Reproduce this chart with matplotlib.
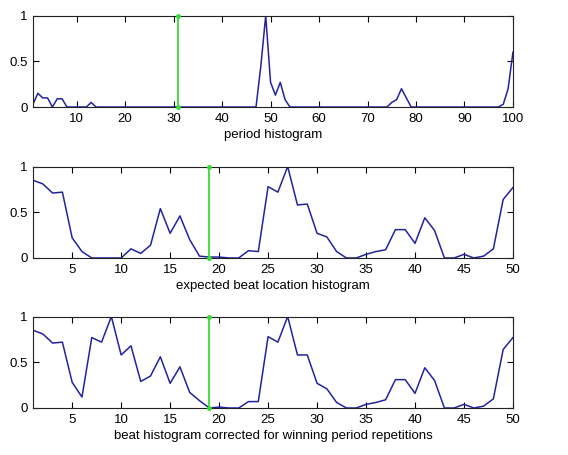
import numpy as np
import matplotlib
matplotlib.use("Agg")
import matplotlib.pyplot as plt

# ---- data ----
period_x = np.arange(1, 101)
period_hist = np.zeros(100)
period_hist[0:8] = [0.03, 0.15, 0.10, 0.10, 0.0, 0.09, 0.09, 0.0]
period_hist[12] = 0.05
period_hist[46:54] = [0.0, 0.45, 1.0, 0.27, 0.13, 0.27, 0.08, 0.0]
period_hist[73:79] = [0.0, 0.05, 0.08, 0.20, 0.10, 0.0]
period_hist[96:100] = [0.0, 0.03, 0.20, 0.60]
period_win = 31

beat_x = np.arange(1, 51)
beat_expected = [0.85, 0.81, 0.71, 0.72, 0.22, 0.07, 0.0, 0.0, 0.0, 0.0,
                 0.10, 0.05, 0.14, 0.54, 0.27, 0.46, 0.20, 0.02, 0.01, 0.01,
                 0.0, 0.0, 0.08, 0.07, 0.78, 0.72, 1.0, 0.58, 0.59, 0.27,
                 0.23, 0.07, 0.0, 0.0, 0.04, 0.07, 0.09, 0.31, 0.31, 0.16,
                 0.44, 0.30, 0.0, 0.0, 0.04, 0.0, 0.02, 0.10, 0.64, 0.77]
beat_corrected = [0.85, 0.81, 0.71, 0.72, 0.28, 0.12, 0.77, 0.72, 1.0, 0.58,
                  0.68, 0.29, 0.35, 0.56, 0.27, 0.45, 0.17, 0.08, 0.0, 0.01,
                  0.0, 0.0, 0.07, 0.07, 0.78, 0.72, 1.0, 0.58, 0.58, 0.27,
                  0.21, 0.06, 0.0, 0.0, 0.04, 0.06, 0.09, 0.31, 0.31, 0.16,
                  0.44, 0.30, 0.0, 0.0, 0.04, 0.0, 0.02, 0.10, 0.64, 0.77]
beat_win = 19

BLUE = "#2323a0"
GREEN = "#33dd33"

plt.rcParams["font.family"] = ["Liberation Sans", "DejaVu Sans"]
plt.rcParams["font.size"] = 9.5

fig = plt.figure(figsize=(5.68, 4.55), dpi=100)

panels = [
    (period_x, period_hist, period_win, (1, 100), np.arange(10, 101, 10),
     "period histogram", 0.7648),
    (beat_x, beat_expected, beat_win, (1, 50), np.arange(5, 51, 5),
     "expected beat location histogram", 0.433),
    (beat_x, beat_corrected, beat_win, (1, 50), np.arange(5, 51, 5),
     "beat histogram corrected for winning period repetitions", 0.1033),
]

for x, y, win, xlim, xticks, label, bottom in panels:
    ax = fig.add_axes([0.0581, bottom, 0.845, 0.201])
    ax.plot(x, y, color=BLUE, linewidth=1.1)
    # winning period / beat marker
    ax.plot([win, win], [0, 1], color=GREEN, linewidth=1.3,
            marker="o", markersize=2.5, clip_on=False, zorder=3)
    ax.set_xlim(*xlim)
    ax.set_ylim(0, 1)
    ax.set_xticks(xticks)
    ax.set_yticks([0, 0.5, 1])
    ax.set_yticklabels(["0", "0.5", "1"])
    ax.tick_params(direction="in", top=True, right=True, length=4,
                   width=0.8, labelsize=9.5, pad=4)
    for s in ax.spines.values():
        s.set_linewidth(0.8)
        s.set_color("#222222")
    ax.set_xlabel(label, fontsize=9.5, labelpad=3)

plt.savefig("out.png", dpi=100)
